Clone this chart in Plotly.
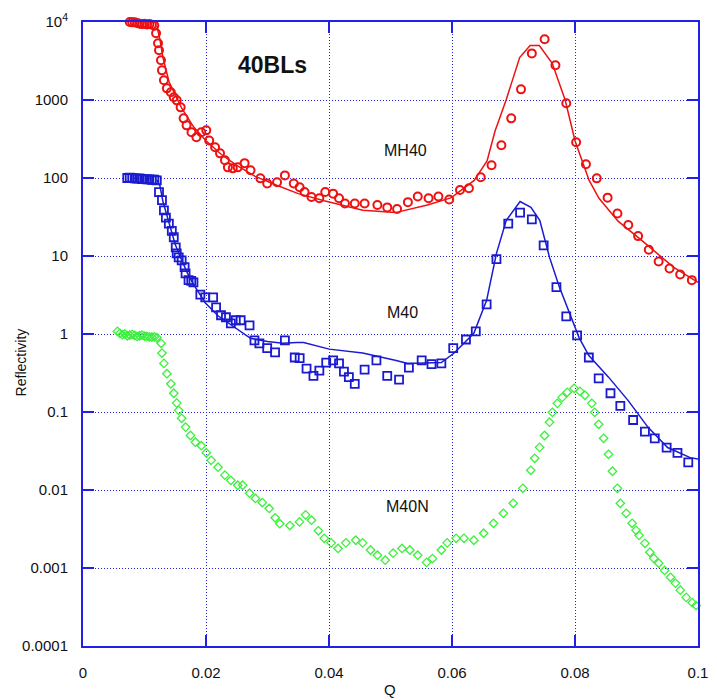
import plotly.graph_objects as go

# ---------------- data ----------------
red_q = [0.0076, 0.0080, 0.0084, 0.0088, 0.0092, 0.0096, 0.0100, 0.0104, 0.0108, 0.0112,
         0.0116, 0.01188, 0.0122, 0.01236, 0.01268, 0.01284, 0.01316, 0.01364, 0.01428, 0.01476,
         0.01524, 0.01588, 0.01636, 0.01684, 0.01764, 0.01844, 0.01924, 0.02004, 0.02052, 0.02148,
         0.02228, 0.02308, 0.02356, 0.02436, 0.02516, 0.02628, 0.02724, 0.02884, 0.02995, 0.03155,
         0.03283, 0.03427, 0.03523, 0.03603, 0.03715, 0.03843, 0.03939, 0.04067, 0.04163, 0.04259,
         0.04419, 0.04579, 0.04787, 0.04947, 0.05107, 0.05283, 0.05443, 0.05619, 0.05779, 0.05955,
         0.0613, 0.06275, 0.06467, 0.06643, 0.06803, 0.06963, 0.07122, 0.07298, 0.07506, 0.07682,
         0.07858, 0.08018, 0.08178, 0.08354, 0.0853, 0.0869, 0.08866, 0.09026, 0.092, 0.0936,
         0.09537, 0.0971, 0.0990]
red_r = [10000, 9900, 9900, 9700, 9500, 9400, 9500, 9300, 9400, 9200,
         9000, 7170, 5350, 4340, 3230, 2400, 1790, 1410, 1260, 1085,
         990, 805, 582, 473, 385, 333, 385, 408, 303, 248,
         207, 169, 137, 133, 137, 155, 126, 99, 85, 88,
         108, 85, 76, 66, 57, 55, 66, 63, 55, 47,
         47, 47, 45, 42, 40, 49, 58, 55, 58, 53,
         70, 74, 102, 146, 263, 582, 1370, 3960, 6000, 2790,
         908, 287, 150, 99, 56, 35, 25, 18, 12, 8.5,
         6.9, 5.8, 4.9]

red_fit_q = [0.0120, 0.0125, 0.013, 0.014, 0.016, 0.018, 0.020, 0.0225, 0.025, 0.028,
             0.0316, 0.035, 0.0392, 0.0455, 0.0508, 0.056, 0.0599, 0.0636, 0.0657, 0.067,
             0.0688, 0.070, 0.071, 0.0727, 0.0742, 0.0763, 0.0784, 0.080, 0.0823, 0.0839,
             0.087, 0.0908, 0.096, 0.1]
red_fit_r = [9000, 6000, 3500, 1700, 800, 450, 300, 200, 145, 105,
             80, 63, 51, 38.5, 36, 45, 56, 93, 166, 400,
             1000, 2000, 3500, 5000, 5000, 2950, 1000, 300, 93, 55,
             28, 16, 7.2, 4.6]

blue_q = [0.0072, 0.0076, 0.0080, 0.0084, 0.0088, 0.0092, 0.0096, 0.0100, 0.0104, 0.0108,
          0.0112, 0.0116, 0.0120, 0.01236, 0.01284, 0.01316, 0.01348, 0.01396, 0.01444, 0.01476,
          0.01508, 0.01524, 0.01556, 0.01604, 0.01652, 0.01668, 0.01716, 0.0176, 0.01796, 0.01908,
          0.01988, 0.02116, 0.02164, 0.02244, 0.02324, 0.02404, 0.02484, 0.02564, 0.02708, 0.02788,
          0.02868, 0.02995, 0.03123, 0.03283, 0.03443, 0.03523, 0.03635, 0.03747, 0.03843, 0.03955,
          0.04067, 0.04163, 0.04243, 0.04323, 0.04419, 0.04579, 0.04771, 0.04947, 0.05139, 0.05299,
          0.05507, 0.05667, 0.05827, 0.0602, 0.06227, 0.06387, 0.06563, 0.06723, 0.06915, 0.07107,
          0.07298, 0.0749, 0.07698, 0.07858, 0.08034, 0.08225, 0.08385, 0.08577, 0.08737, 0.08945,
          0.09137, 0.09297, 0.0949, 0.09666, 0.09842]
blue_r = [100, 101, 100, 99, 98, 99, 97, 97, 96, 96,
          95, 95, 93, 66, 52, 38.5, 31, 26, 21, 17.4,
          12.9, 10.8, 9.6, 8.8, 7.2, 6.0, 4.9, 4.8, 4.6, 3.2,
          2.95, 2.95, 2.2, 1.74, 1.64, 1.37, 1.5, 1.5, 1.29, 0.83,
          0.76, 0.66, 0.58, 0.83, 0.50, 0.49, 0.36, 0.29, 0.34, 0.43,
          0.46, 0.42, 0.33, 0.28, 0.23, 0.35, 0.46, 0.29, 0.26, 0.37,
          0.46, 0.41, 0.42, 0.66, 0.85, 1.08, 2.4, 9.1, 26, 36,
          29.5, 13.7, 4.0, 1.68, 0.96, 0.50, 0.27, 0.174, 0.12, 0.079,
          0.056, 0.046, 0.035, 0.030, 0.0226]

blue_fit_q = [0.0120, 0.0125, 0.013, 0.014, 0.015, 0.016, 0.017, 0.018, 0.0199, 0.022,
              0.0245, 0.02724, 0.030, 0.0325, 0.03475, 0.03587, 0.04003, 0.04547, 0.05075, 0.05283,
              0.05827, 0.06035, 0.06355, 0.06563, 0.06723, 0.06883, 0.07107, 0.07283, 0.07427, 0.07586,
              0.07746, 0.07906, 0.08066, 0.08225, 0.08545, 0.08865, 0.09185, 0.09505, 0.09873, 0.1]
blue_fit_r = [95, 80, 50, 26, 14, 9, 6, 4.3, 2.5, 1.7,
              1.25, 0.88, 0.8, 0.76, 0.78, 0.78, 0.64, 0.57, 0.46, 0.42,
              0.43, 0.57, 1.02, 2.7, 10.8, 28.6, 50, 42, 28.6, 9.6,
              4.0, 1.84, 0.9, 0.53, 0.28, 0.14, 0.064, 0.035, 0.026, 0.025]

green_q = [0.0056, 0.0060, 0.0064, 0.0068, 0.0072, 0.0076, 0.0080, 0.0084, 0.0088, 0.0092,
           0.0096, 0.0100, 0.0104, 0.0108, 0.0112, 0.0116, 0.0120, 0.0127, 0.01284, 0.01316,
           0.01364, 0.01428, 0.01476, 0.01524, 0.01556, 0.01604, 0.01668, 0.01748, 0.01828, 0.01924,
           0.02004, 0.02084, 0.02196, 0.02308, 0.02404, 0.02516, 0.02596, 0.02708, 0.02804, 0.02916,
           0.03028, 0.03124, 0.0320, 0.03364, 0.0352, 0.03619, 0.03715, 0.03827, 0.03923, 0.04035,
           0.04147, 0.04275, 0.04435, 0.04547, 0.04675, 0.04787, 0.04915, 0.05043, 0.05187, 0.05315,
           0.05443, 0.05587, 0.05683, 0.05827, 0.05923, 0.06067, 0.06195, 0.06355, 0.06515, 0.06675,
           0.06835, 0.06995, 0.07153, 0.07281, 0.07345, 0.07425, 0.07505, 0.07585, 0.07633, 0.07713,
           0.07793, 0.07873, 0.07985, 0.08081, 0.08161, 0.08273, 0.08321, 0.08385, 0.08465, 0.08545,
           0.08609, 0.08689, 0.08737, 0.08833, 0.08929, 0.08993, 0.09041, 0.09137, 0.09217, 0.09281,
           0.09361, 0.09457, 0.09553, 0.09633, 0.09713, 0.09809, 0.09905, 0.09969]
green_r = [1.08, 1.02, 0.98, 1.0, 0.95, 0.97, 0.99, 0.96, 0.93, 0.95,
           0.97, 0.94, 0.93, 0.92, 0.91, 0.92, 0.90, 0.76, 0.57, 0.42,
           0.31, 0.23, 0.174, 0.13, 0.105, 0.083, 0.064, 0.050, 0.041, 0.037,
           0.030, 0.024, 0.0196, 0.0155, 0.0133, 0.0115, 0.0115, 0.0091, 0.0078, 0.0069,
           0.0058, 0.0044, 0.0037, 0.0035, 0.0039, 0.0048, 0.0041, 0.0030, 0.0024, 0.0021,
           0.00178, 0.0021, 0.00227, 0.0021, 0.0017, 0.00146, 0.00126, 0.00155, 0.00178, 0.0017,
           0.00146, 0.00118, 0.00132, 0.0017, 0.0021, 0.0024, 0.0024, 0.00227, 0.00279, 0.00374,
           0.00502, 0.00675, 0.0105, 0.0179, 0.0255, 0.0352, 0.050, 0.074, 0.099, 0.129,
           0.154, 0.179, 0.201, 0.184, 0.164, 0.129, 0.099, 0.0695, 0.046, 0.0287,
           0.0174, 0.0105, 0.00675, 0.00502, 0.00374, 0.00304, 0.00262, 0.00207, 0.00159, 0.00133,
           0.00115, 0.00093, 0.00076, 0.00064, 0.00052, 0.00042, 0.00036, 0.00033]

x_tickvals = [0, 0.02, 0.04, 0.06, 0.08, 0.1]
x_ticktext = ["0", "0.02", "0.04", "0.06", "0.08", "0.1"]
y_tickvals = [1e-4, 1e-3, 1e-2, 1e-1, 1, 10, 100, 1000, 1e4]
y_ticktext = ["0.0001", "0.001", "0.01", "0.1", "1", "10", "100", "1000", "10<sup>4</sup>"]

# ---------------- styling ----------------
RED = "#ee1111"
BLUE = "#1a1ad0"
GREEN = "#3cf03c"
AXIS = "#2020e6"
FONT = "Liberation Sans, Arial, sans-serif"

fig = go.Figure()

fig.add_trace(go.Scatter(x=red_fit_q, y=red_fit_r, mode="lines",
                         line=dict(color=RED, width=1.5), hoverinfo="skip"))
fig.add_trace(go.Scatter(x=blue_fit_q, y=blue_fit_r, mode="lines",
                         line=dict(color=BLUE, width=1.5), hoverinfo="skip"))
fig.add_trace(go.Scatter(x=green_q, y=green_r, mode="markers", cliponaxis=False,
                         marker=dict(symbol="diamond-open", size=6.5, color=GREEN,
                                     line=dict(width=1.3, color=GREEN))))
fig.add_trace(go.Scatter(x=blue_q, y=blue_r, mode="markers", cliponaxis=False,
                         marker=dict(symbol="square-open", size=8, color=BLUE,
                                     line=dict(width=1.8, color=BLUE))))
fig.add_trace(go.Scatter(x=red_q, y=red_r, mode="markers", cliponaxis=False,
                         marker=dict(symbol="circle-open", size=8, color=RED,
                                     line=dict(width=2, color=RED))))

axis_common = dict(
    showline=True, linecolor=AXIS, linewidth=2, mirror="ticks",
    ticks="inside", ticklen=11, tickwidth=2, tickcolor=AXIS,
    showgrid=True, gridcolor=AXIS, gridwidth=1, griddash="1px,2px",
    zeroline=False, tickfont=dict(family=FONT, size=15, color="#111111"),
)

fig.update_xaxes(range=[0, 0.1], tickvals=x_tickvals, ticktext=x_ticktext,
                 ticklabelstandoff=12, **axis_common)
fig.update_yaxes(type="log", range=[-4, 4], tickvals=y_tickvals, ticktext=y_ticktext,
                 ticklabelstandoff=10, **axis_common)

annots = [
    dict(x=0.03075, y=3.451, text="<b>40BLs</b>", font=dict(size=23)),
    dict(x=0.0525, y=2.355, text="MH40", font=dict(size=16)),
    dict(x=0.0519, y=0.278, text="M40", font=dict(size=16)),
    dict(x=0.0528, y=-2.209, text="M40N", font=dict(size=16)),
]
for a in annots:
    f = dict(family=FONT, color="#111111")
    f.update(a.pop("font"))
    fig.add_annotation(xref="x", yref="y", showarrow=False, font=f,
                       xanchor="center", yanchor="middle", **a)

fig.add_annotation(xref="paper", yref="paper", x=0.4995, y=-0.0705, text="Q",
                   xanchor="center", yanchor="middle", showarrow=False,
                   font=dict(family=FONT, size=15, color="#111111"))
fig.add_annotation(xref="paper", yref="paper", x=-0.1003, y=0.455, text="Reflectivity",
                   xanchor="center", yanchor="middle", textangle=-90, showarrow=False,
                   font=dict(family=FONT, size=14, color="#111111"))

fig.update_layout(width=717, height=700, margin=dict(l=83, r=9, t=22, b=54),
                  plot_bgcolor="white", paper_bgcolor="white", showlegend=False)

fig.write_html("out.html")
